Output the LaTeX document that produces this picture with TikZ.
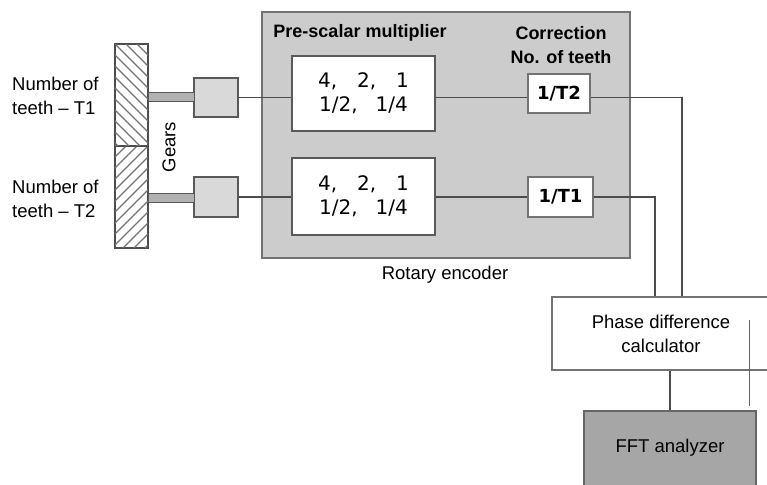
\documentclass[tikz,border=0pt]{standalone}
\usepackage{fontspec}
\setmainfont{Liberation Sans}
\newfontfamily\djv{DejaVu Sans}
\begin{document}
\begin{tikzpicture}[x=1pt,y=-1pt,
  font=\fontsize{18.5}{24}\selectfont,
  ln/.style={draw=black!70, line width=1.2pt},
  box/.style={draw=black!65, line width=1.3pt, inner sep=0pt},
  hatch/.style={draw=black!55, line width=1.1pt},
  lbl/.style={inner sep=0pt},
  digits/.style={box, fill=white, align=center, font=\djv\fontsize{20}{24}\selectfont},
  corbox/.style={box, fill=white, draw=black!55, font=\djv\bfseries\fontsize{18}{20}\selectfont}]
\useasboundingbox (0,0) rectangle (767,484);

% gears
\node[box, draw=black!70, minimum width=33pt, minimum height=102pt] (gear1) at (131.5,95) {};
\node[box, draw=black!70, minimum width=33pt, minimum height=102pt] (gear2) at (131.5,197) {};
\begin{scope}
  \clip (gear1.north west) rectangle (gear1.south east);
  \foreach \k in {-6,...,12} \draw[hatch] (115,44+\k*11) -- ++(60,60);
\end{scope}
\begin{scope}
  \clip (gear2.north west) rectangle (gear2.south east);
  \foreach \k in {0,...,18} \draw[hatch] (115,146+\k*11) -- ++(60,-60);
\end{scope}
\draw[box, draw=black!70] (gear1.north west) rectangle (gear2.south east);
\draw[box, draw=black!70] (gear1.south west) -- (gear1.south east);

% rotary encoder housing
\node[box, fill=black!20, draw=black!55, minimum width=368pt, minimum height=246pt] (rot) at (446,135) {};

% encoders and shafts
\node[box, fill=black!15, minimum width=44pt, minimum height=39pt] (enc1) at (216,97.5) {};
\node[box, fill=black!15, minimum width=44pt, minimum height=40pt] (enc2) at (216,197) {};
\node[box, fill=black!30, line width=1pt, minimum width=46pt, minimum height=9pt] (sh1) at (171,97.5) {};
\node[box, fill=black!30, line width=1pt, minimum width=46pt, minimum height=9pt] (sh2) at (171,198) {};

% pre-scalar multiplier boxes
\node[digits, minimum width=143pt, minimum height=75pt] (pre1) at (363.5,93.5)
  {4,\hspace{20pt}2,\hspace{20pt}1\\1/2,\hspace{18pt}1/4};
\node[digits, minimum width=143pt, minimum height=77pt] (pre2) at (363.5,196.5)
  {4,\hspace{20pt}2,\hspace{20pt}1\\1/2,\hspace{18pt}1/4};

% correction boxes
\node[corbox, minimum width=62pt, minimum height=39pt] (cor2) at (559,93.5) {1/T2};
\node[corbox, minimum width=65pt, minimum height=40pt] (cor1) at (560.5,197) {1/T1};

% phase difference calculator and FFT analyzer
\node[box, fill=white, draw=black!55, align=center, minimum width=218pt, minimum height=73pt] (phase) at (661,333.5) {Phase difference\\calculator};
\node[box, fill=black!35, draw=black!60, minimum width=172pt, minimum height=79pt] (fft) at (670,450.5) {};
\node[lbl] (fftl) at (670,448) {FFT analyzer};

% labels
\node[lbl, font=\bfseries\fontsize{18}{24}\selectfont] (psm) at (360,33) {Pre-scalar multiplier};
\node[lbl, align=center, font=\bfseries\fontsize{18}{24}\selectfont] (corr) at (561,45) {Correction\\No. of teeth};
\node[lbl] (rel) at (445,275) {Rotary encoder};
\node[lbl, rotate=90] (gears) at (169,147) {Gears};
\node[lbl, align=left, anchor=west] (n1) at (12,96) {Number of\\teeth -- T1};
\node[lbl, align=left, anchor=west] (n2) at (12,199) {Number of\\teeth -- T2};

% connectors
\draw[ln] (enc1.east) -- (enc1.east -| pre1.west);
\draw[ln] (pre1.east |- enc1) -- (cor2.west |- enc1);
\draw[ln] (cor2.east |- enc1) -| ([xshift=21pt]phase.north);
\draw[ln] (enc2.east) -- (enc2.east -| pre2.west);
\draw[ln] (pre2.east |- enc2) -- (cor1.west);
\draw[ln] (cor1.east) -| ([xshift=-6pt]phase.north);
\draw[ln] (fft.north |- phase.south) -- (fft.north);
\coordinate (t1) at (749,320);
\coordinate (t2) at (749,406);
\draw[draw=black!60, line width=0.8pt] (t1) -- (t2);
\end{tikzpicture}
\end{document}
